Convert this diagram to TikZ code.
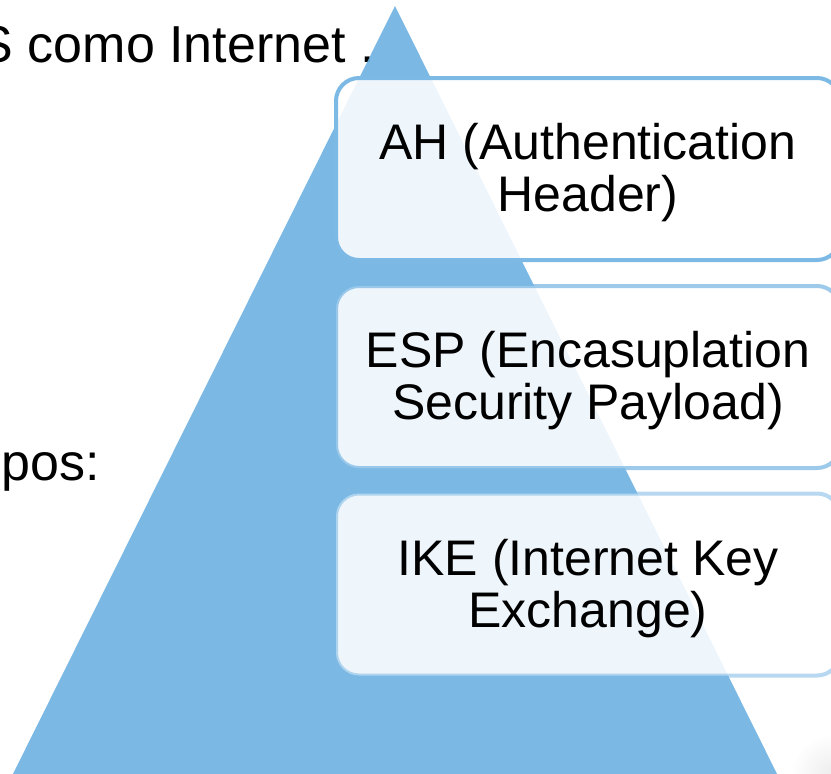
\documentclass[tikz,border=0pt]{standalone}
\usepackage{fontspec}
\setmainfont{Liberation Sans}
\definecolor{pyr}{RGB}{110,177,226}
\definecolor{edge}{RGB}{125,185,229}
\begin{document}
\begin{tikzpicture}[x=1pt,y=-1pt,
  slidetext/.style={font=\fontsize{52}{58}\selectfont, inner sep=0pt},
  layerbox/.style={rounded corners=23pt, line width=4pt, fill=white,
    fill opacity=0.87, minimum width=504pt, minimum height=182pt,
    inner sep=0pt},
  layertext/.style={align=center, font=\fontsize{50}{52}\selectfont,
    inner sep=0pt, yshift=-4pt}]
\useasboundingbox (0,0) rectangle (831,774);
\fill[white] (0,0) rectangle (831,774);
% faint shadow in the lower right corner
\shade[inner color=black!7, outer color=white] (831,774) circle[radius=40];
% slide text partly hidden behind the pyramid
\node[slidetext, anchor=base east] (line1) at (375,62) {S como Internet .};
\node[slidetext, anchor=base east] (line2) at (100,480) {upos:};
% pyramid
\fill[pyr, fill opacity=0.9] (395,6) -- (790,800) -- (0,800) -- cycle;
% protocol layers
\node[layerbox, draw=edge] (ah) at (588,169) {};
\node[layerbox, draw=edge, draw opacity=0.75] (esp) at (588,377) {};
\node[layerbox, draw=edge, draw opacity=0.55] (ike) at (588,584.5) {};
\node[layertext] (ahtext) at (ah.center) {AH (Authentication\\Header)};
\node[layertext] (esptext) at (esp.center) {ESP (Encasuplation\\Security Payload)};
\node[layertext] (iketext) at (ike.center) {IKE (Internet Key\\Exchange)};
\end{tikzpicture}
\end{document}
